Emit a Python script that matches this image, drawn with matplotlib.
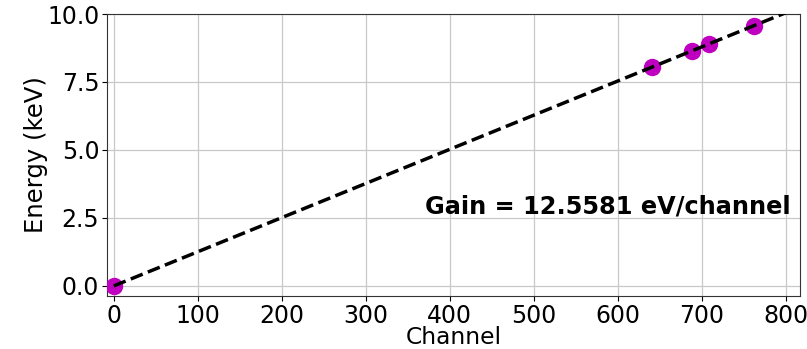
import matplotlib
matplotlib.use("Agg")
import matplotlib.pyplot as plt
import numpy as np

channels = [0, 641, 688, 709, 762]
energies = [0.0, 8.048, 8.639, 8.905, 9.572]
gain_ev = 12.5581
fit_x = [0, 800]

fig = plt.figure(figsize=(8.07, 3.49), dpi=100)
ax = fig.add_axes([107/807, 53/349, (800-107)/807, (296-14)/349])
ax.grid(True, color='#c8c8c8', linewidth=0.9)
ax.set_axisbelow(True)
ax.plot(channels, energies, 'o', color='#c000c0', markersize=11.5, zorder=3)
fx = np.array(fit_x, dtype=float)
ax.plot(fx, fx * gain_ev / 1000.0, '--', color='black', linewidth=2.5, zorder=4)
ax.set_xlim(-8, 817)
ax.set_ylim(-0.37, 10.0)
ax.set_xticks([0, 100, 200, 300, 400, 500, 600, 700, 800])
ax.set_yticks([0.0, 2.5, 5.0, 7.5, 10.0])
ax.tick_params(labelsize=17, pad=2)
ax.set_xlabel('Channel', fontsize=16.8, labelpad=-1.3)
ax.set_ylabel('Energy (keV)', fontsize=17.5, labelpad=-1)
ax.text(370, 2.65, 'Gain = %.4f eV/channel' % gain_ev, fontsize=17.3, fontweight='bold')
for s in ax.spines.values():
    s.set_color('#333333')
fig.savefig('out.png', dpi=100)
